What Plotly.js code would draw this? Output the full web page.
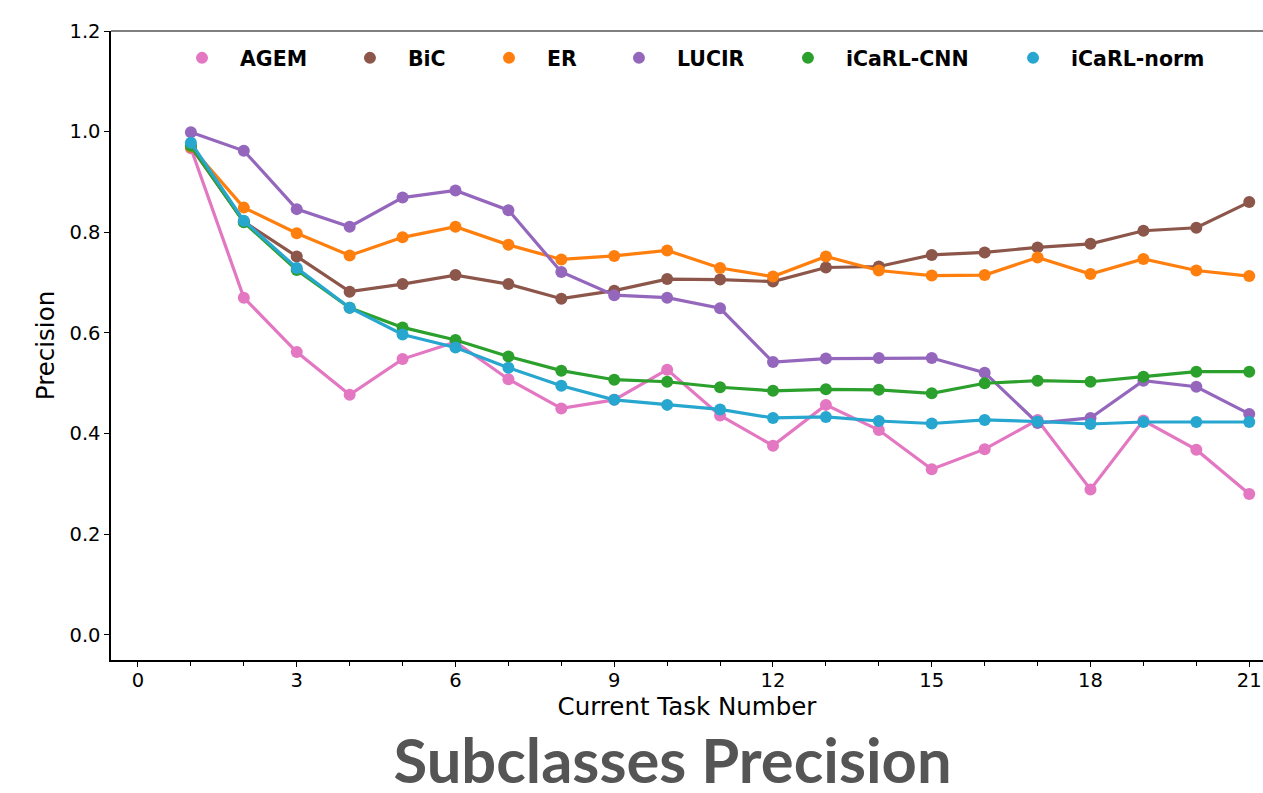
<!DOCTYPE html>
<html>
<head>
<meta charset="utf-8">
<script src="https://cdn.plot.ly/plotly-3.0.1.min.js"></script>
<style>
  html, body { margin: 0; padding: 0; background: #fff; }
  #chart { width: 1263px; height: 793px; }
</style>
</head>
<body>
<div id="chart"></div>
<script>
// Task index (1..21) and per-method precision after each task
const tasks = [1, 2, 3, 4, 5, 6, 7, 8, 9, 10, 11, 12, 13, 14, 15, 16, 17, 18, 19, 20, 21];

const agem      = [0.967, 0.670, 0.562, 0.477, 0.548, 0.582, 0.508, 0.450, 0.467, 0.527, 0.436, 0.376, 0.457, 0.407, 0.329, 0.369, 0.427, 0.289, 0.426, 0.368, 0.280];
const bic       = [0.970, 0.821, 0.752, 0.682, 0.697, 0.715, 0.697, 0.668, 0.684, 0.707, 0.706, 0.702, 0.730, 0.732, 0.755, 0.760, 0.770, 0.777, 0.803, 0.809, 0.860];
const er        = [0.970, 0.849, 0.798, 0.754, 0.790, 0.811, 0.775, 0.746, 0.753, 0.764, 0.729, 0.712, 0.752, 0.724, 0.714, 0.715, 0.750, 0.717, 0.747, 0.724, 0.713];
const lucir     = [0.999, 0.962, 0.846, 0.811, 0.869, 0.883, 0.844, 0.721, 0.675, 0.670, 0.649, 0.542, 0.549, 0.550, 0.550, 0.521, 0.421, 0.431, 0.505, 0.493, 0.439];
const icarlCnn  = [0.972, 0.820, 0.725, 0.650, 0.611, 0.586, 0.553, 0.525, 0.507, 0.503, 0.492, 0.485, 0.488, 0.487, 0.480, 0.500, 0.505, 0.503, 0.513, 0.523, 0.523];
const icarlNorm = [0.978, 0.823, 0.729, 0.650, 0.597, 0.571, 0.531, 0.495, 0.467, 0.457, 0.448, 0.431, 0.433, 0.425, 0.420, 0.427, 0.424, 0.419, 0.423, 0.423, 0.423];

const methodNames = ['AGEM', 'BiC', 'ER', 'LUCIR', 'iCaRL-CNN', 'iCaRL-norm'];
const methodValues = [agem, bic, er, lucir, icarlCnn, icarlNorm];

const xTickVals = [0, 3, 6, 9, 12, 15, 18, 21];
const yTickVals = [0.0, 0.2, 0.4, 0.6, 0.8, 1.0, 1.2];

const colors = ['#e377c2', '#8c564b', '#ff7f0e', '#9467bd', '#2ca02c', '#27a6cf'];
// left edge (paper fraction) of each legend entry, laid out in one row
const legendX = [0.046, 0.1918, 0.3125, 0.4253, 0.572, 0.7674];

const traces = [];
const layoutLegends = {};
methodNames.forEach((name, i) => {
  const legendId = i === 0 ? 'legend' : 'legend' + (i + 1);
  // connecting line
  traces.push({
    x: tasks, y: methodValues[i], type: 'scatter', mode: 'lines',
    line: { color: colors[i], width: 3.2 },
    showlegend: false, hoverinfo: 'skip'
  });
  // point markers (also the legend entry)
  traces.push({
    x: tasks, y: methodValues[i], type: 'scatter', mode: 'markers',
    name: name, legend: legendId,
    marker: { color: colors[i], size: 12 }
  });
  layoutLegends[legendId] = {
    x: legendX[i], xanchor: 'left', xref: 'paper',
    y: 0.957, yanchor: 'middle', yref: 'paper',
    orientation: 'h', bgcolor: 'rgba(0,0,0,0)', borderwidth: 0,
    itemwidth: 66, itemsizing: 'constant',
    font: { family: 'DejaVu Sans', size: 20.5, color: '#000', weight: 'bold' }
  };
});

const axisFont = { family: 'DejaVu Sans', size: 19.5, color: '#000' };
const axisTitleFont = { family: 'DejaVu Sans', size: 24.5, color: '#000' };

const layout = Object.assign({
  width: 1263, height: 793,
  margin: { l: 111, r: 0, t: 31, b: 133, pad: 0 },
  paper_bgcolor: '#fff', plot_bgcolor: '#fff',
  showlegend: true,
  title: {
    text: 'Subclasses Precision',
    font: { family: 'Lato', size: 61.5, color: '#555555', weight: 'bold' },
    x: 0.5325, xanchor: 'center', xref: 'container',
    y: 0.04, yanchor: 'middle', yref: 'container'
  },
  xaxis: {
    range: [-0.51, 21.26],
    tickvals: xTickVals, ticktext: xTickVals.map(String),
    ticks: 'outside', ticklen: 5, tickwidth: 1, tickcolor: '#000',
    ticklabelstandoff: -3,
    minor: { dtick: 1, tick0: 0, ticks: 'outside', ticklen: 4, tickwidth: 1, tickcolor: '#000', showgrid: false },
    showgrid: false, zeroline: false,
    showline: true, linecolor: '#000', linewidth: 1.6,
    tickfont: axisFont,
    title: { text: 'Current Task Number', font: axisTitleFont, standoff: 1 }
  },
  yaxis: {
    range: [-0.05, 1.2],
    tickvals: yTickVals, ticktext: yTickVals.map(v => v.toFixed(1)),
    ticks: 'outside', ticklen: 5, tickwidth: 1, tickcolor: '#000',
    showgrid: false, zeroline: false,
    showline: true, linecolor: '#000', linewidth: 1.6,
    tickfont: axisFont,
    title: { text: 'Precision', font: axisTitleFont, standoff: 8 }
  },
  shapes: [{
    // upper frame line
    type: 'line', xref: 'paper', yref: 'paper', x0: 0, x1: 1, y0: 1, y1: 1,
    line: { color: '#808080', width: 2 }
  }]
}, layoutLegends);

Plotly.newPlot('chart', traces, layout, { staticPlot: true, displayModeBar: false });
</script>
</body>
</html>
